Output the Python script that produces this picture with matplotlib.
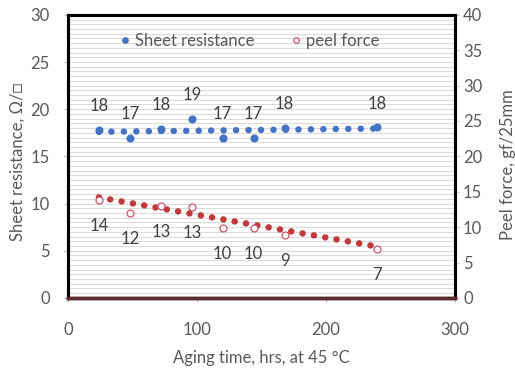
import numpy as np
import matplotlib
matplotlib.use('Agg')
import matplotlib.pyplot as plt
from matplotlib.ticker import MultipleLocator

plt.rcParams['font.family'] = ['Lato', 'DejaVu Sans']
plt.rcParams['font.size'] = 12

# aging time (hrs) of the measured samples
hours = [24, 48, 72, 96, 120, 144, 168, 240]
# sheet resistance, ohm/sq (left axis)
sheet_res = [17.8, 17.0, 17.9, 19.0, 17.0, 17.0, 18.0, 18.1]
sheet_lbl = ['18', '17', '18', '19', '17', '17', '18', '18']
# peel force, gf/25mm (right axis)
peel = [13.9, 12.0, 13.0, 12.9, 9.9, 9.9, 8.9, 6.9]
peel_lbl = ['14', '12', '13', '13', '10', '10', '9', '7']
# linear trend end points
trend_x = [24, 240]
sheet_trend = [17.6, 17.95]
peel_trend = [14.2, 7.25]

blue = '#4472C4'
red = '#C0393B'
grey = '#595959'

fig = plt.figure(figsize=(5.15, 3.71), dpi=100)
ax = fig.add_axes([0.132, 0.197, 0.751, 0.763])
ax2 = ax.twinx()

ax.set_xlim(0, 300)
ax.set_ylim(0, 30)
ax2.set_ylim(0, 40)
ax.xaxis.set_major_locator(MultipleLocator(100))
ax.yaxis.set_major_locator(MultipleLocator(5))
ax2.yaxis.set_major_locator(MultipleLocator(5))
ax.yaxis.set_minor_locator(MultipleLocator(0.5))
ax.grid(which='minor', axis='y', color='#d4d4d4', lw=0.6)
ax.grid(which='major', axis='y', color='#d4d4d4', lw=0.6)
ax.set_axisbelow(True)

# dotted trend lines
ax.plot(trend_x, sheet_trend, color=blue, lw=4.7, linestyle=(0, (0.01, 1.9)),
        dash_capstyle='round')
ax2.plot(trend_x, peel_trend, color=red, lw=4.7, linestyle=(0, (0.01, 1.75)),
         dash_capstyle='round')

ax.plot(hours, sheet_res, 'o', color=blue, ms=4.8, label='Sheet resistance')
ax2.plot(hours, peel, 'o', mfc='white', mec='#C8566A', mew=0.9, ms=5,
         label='peel force')

for h, v, t in zip(hours, sheet_res, sheet_lbl):
    ax.annotate(t, (h, v), xytext=(0, 17), textcoords='offset points',
                ha='center', va='center', color='#404040', fontsize=12)
for h, v, t in zip(hours, peel, peel_lbl):
    ax2.annotate(t, (h, v), xytext=(0, -19), textcoords='offset points',
                 ha='center', va='center', color='#404040', fontsize=12)

for a in (ax, ax2):
    for s in ('left', 'top', 'right'):
        a.spines[s].set_color('black')
        a.spines[s].set_linewidth(2.2)
    a.spines['bottom'].set_color('#5b2c2c')
    a.spines['bottom'].set_linewidth(2.5)

ax.tick_params(axis='x', which='major', length=3, color='#d9a0a8', pad=14,
               labelcolor=grey, labelsize=12)
ax.tick_params(axis='y', which='major', length=3, color='#bfbfbf', pad=10,
               labelcolor=grey, labelsize=12)
ax.tick_params(axis='y', which='minor', length=0)
ax2.tick_params(axis='y', length=3, color='#bfbfbf', pad=3,
                labelcolor=grey, labelsize=12)

ax.set_xlabel('Aging time, hrs, at 45 °C', color=grey, fontsize=12, labelpad=9)
ax.set_ylabel('Sheet resistance, Ω/□', color=grey, fontsize=12)
ax2.set_ylabel('Peel force, gf/25mm', color=grey, fontsize=12)
ax.yaxis.set_label_coords(-0.109, 0.48)
ax2.yaxis.set_label_coords(1.116, 0.47)

h1, l1 = ax.get_legend_handles_labels()
h2, l2 = ax2.get_legend_handles_labels()
leg = ax2.legend(h1 + h2, l1 + l2, loc='upper center', ncol=2, frameon=False,
                 bbox_to_anchor=(0.47, 0.99), handlelength=0.6,
                 handletextpad=0.3, columnspacing=2.2, markerscale=0.8,
                 fontsize=12)
for t in leg.get_texts():
    t.set_color(grey)

fig.savefig('out.png', dpi=100)
